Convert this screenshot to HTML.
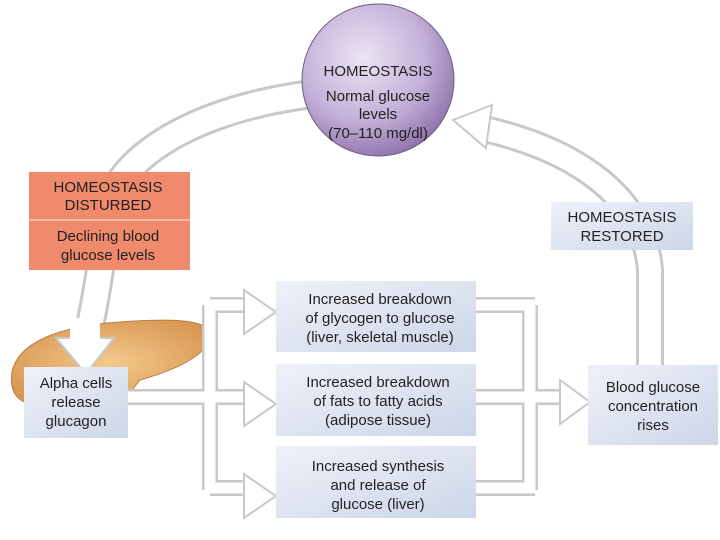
<!DOCTYPE html>
<html><head><meta charset="utf-8"><style>
body{margin:0;width:720px;height:540px;background:#fff;overflow:hidden}
svg{display:block}
text{font-family:"Liberation Sans",sans-serif;fill:#231f20;font-size:15px;text-anchor:middle}
</style></head><body>
<svg width="720" height="540" viewBox="0 0 720 540">
<defs>
<radialGradient id="pg" cx="0.4" cy="0.35" r="0.7"><stop offset="0" stop-color="#ece4f3"/><stop offset="0.6" stop-color="#c3b0d8"/><stop offset="1" stop-color="#8a6fa8"/></radialGradient>
<linearGradient id="bg" x1="0" y1="0" x2="1" y2="1"><stop offset="0" stop-color="#eef1f8"/><stop offset="1" stop-color="#cdd6e8"/></linearGradient>
<radialGradient id="pan" cx="0.5" cy="0.5" r="0.6"><stop offset="0" stop-color="#f2c98c"/><stop offset="1" stop-color="#d99652"/></radialGradient>
</defs>
<!-- left big arc arrow -->
<path d="M305,95 C200,110 130,150 110,200 L100,270 C95,300 92,320 85,345" fill="none" stroke="#c8c8c8" stroke-width="30"/>
<path d="M305,95 C200,110 130,150 110,200 L100,270 C95,300 92,320 85,345" fill="none" stroke="#fff" stroke-width="24"/>
<!-- pancreas -->
<path d="M12,372 C18,342 60,326 120,322 C160,319 198,318 210,330 C214,348 190,366 140,380 L128,395 L60,402 C25,412 8,398 12,372Z" fill="url(#pan)" stroke="#b98048" stroke-width="1"/>
<polygon points="56,338 114,338 86,374" fill="#fff" stroke="#c8c8c8" stroke-width="2"/>
<rect x="70" y="318" width="30" height="22" fill="#fff"/>
<!-- right arc arrow -->
<path d="M650,365 L650,270 C645,200 580,150 480,128" fill="none" stroke="#c8c8c8" stroke-width="28"/>
<path d="M650,365 L650,270 C645,200 580,150 480,128" fill="none" stroke="#fff" stroke-width="22"/>
<polygon points="453,120 492,105 486,148" fill="#fff" stroke="#c8c8c8" stroke-width="2"/>
<!-- circle -->
<circle cx="378" cy="80" r="76" fill="url(#pg)" stroke="#6d5a85" stroke-width="1"/>
<text x="378" y="76">HOMEOSTASIS</text>
<text x="378" y="101">Normal glucose</text>
<text x="378" y="119">levels</text>
<text x="378" y="138">(70–110 mg/dl)</text>
<!-- red box -->
<rect x="29" y="172" width="161" height="98" fill="#f08a6c"/>
<line x1="29" y1="220" x2="190" y2="220" stroke="#f6b8a2" stroke-width="2"/>
<text x="108" y="192">HOMEOSTASIS</text>
<text x="108" y="210">DISTURBED</text>
<text x="108" y="241">Declining blood</text>
<text x="108" y="260">glucose levels</text>
<!-- restored box -->
<rect x="551" y="202" width="142" height="48" fill="url(#bg)"/>
<text x="622" y="222">HOMEOSTASIS</text>
<text x="622" y="241">RESTORED</text>
<!-- branch arrows left -->
<g fill="none" stroke="#c8c8c8" stroke-width="16">
<path d="M128,397 L218,397 M210,305 L210,490 M210,305 L250,305 M210,397 L250,397 M210,488 L250,488"/>
</g>
<g fill="none" stroke="#fff" stroke-width="11">
<path d="M128,397 L218,397 M210,305 L210,490 M210,305 L252,305 M210,397 L252,397 M210,488 L252,488"/>
</g>
<g fill="#fff" stroke="#c8c8c8" stroke-width="2">
<polygon points="244,290 276,312 244,334"/>
<polygon points="244,382 276,404 244,426"/>
<polygon points="244,474 276,496 244,518"/>
</g>
<!-- branch arrows right -->
<g fill="none" stroke="#c8c8c8" stroke-width="16">
<path d="M476,305 L535,305 M476,397 L535,397 M476,488 L535,488 M530,305 L530,490 M530,397 L565,397"/>
</g>
<g fill="none" stroke="#fff" stroke-width="11">
<path d="M470,305 L535,305 M470,397 L535,397 M470,488 L535,488 M530,305 L530,490 M530,397 L568,397"/>
</g>
<polygon points="560,380 590,402 560,424" fill="#fff" stroke="#c8c8c8" stroke-width="2"/>
<!-- middle boxes -->
<rect x="276" y="281" width="200" height="71" fill="url(#bg)"/>
<text x="380" y="304">Increased breakdown</text>
<text x="380" y="323">of glycogen to glucose</text>
<text x="380" y="342">(liver, skeletal muscle)</text>
<rect x="276" y="364" width="200" height="72" fill="url(#bg)"/>
<text x="378" y="387">Increased breakdown</text>
<text x="378" y="406">of fats to fatty acids</text>
<text x="378" y="425">(adipose tissue)</text>
<rect x="276" y="446" width="200" height="72" fill="url(#bg)"/>
<text x="378" y="471">Increased synthesis</text>
<text x="378" y="490">and release of</text>
<text x="378" y="509">glucose (liver)</text>
<!-- alpha box -->
<rect x="24" y="367" width="104" height="71" fill="url(#bg)"/>
<text x="76" y="388">Alpha cells</text>
<text x="76" y="407">release</text>
<text x="76" y="426">glucagon</text>
<!-- right box -->
<rect x="588" y="365" width="130" height="80" fill="url(#bg)"/>
<text x="653" y="392">Blood glucose</text>
<text x="653" y="411">concentration</text>
<text x="653" y="430">rises</text>
</svg>
</body></html>
